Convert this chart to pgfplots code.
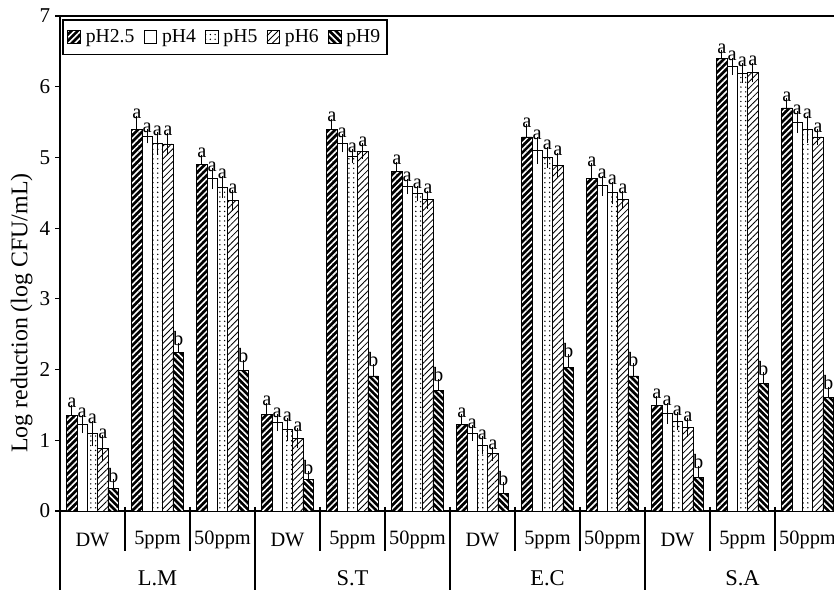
\documentclass[border=0pt]{standalone}
\usepackage{pgfplots}
\pgfplotsset{compat=1.18}
\usepackage{pgfplotstable}
\usepackage{fontspec}
\setmainfont{Liberation Serif}
\usetikzlibrary{patterns,patterns.meta}

% columns: group index, mean log reduction, error, significance letter
\pgfplotstableread{
x y e lab
0 1.35 0.09 a
1 5.40 0.13 a
2 4.90 0.08 a
3 1.37 0.10 a
4 5.40 0.09 a
5 4.80 0.08 a
6 1.23 0.08 a
7 5.29 0.12 a
8 4.70 0.16 a
9 1.49 0.08 a
10 6.40 0.06 a
11 5.70 0.08 a
}\phA
\pgfplotstableread{
x y e lab
0 1.23 0.07 a
1 5.30 0.04 a
2 4.70 0.09 a
3 1.25 0.06 a
4 5.20 0.07 a
5 4.59 0.05 a
6 1.10 0.05 a
7 5.10 0.13 a
8 4.60 0.08 a
9 1.38 0.09 a
10 6.29 0.06 a
11 5.50 0.09 a
}\phB
\pgfplotstableread{
x y e lab
0 1.10 0.12 a
1 5.20 0.10 a
2 4.58 0.10 a
3 1.15 0.10 a
4 5.02 0.04 a
5 4.49 0.05 a
6 0.93 0.07 a
7 5.00 0.09 a
8 4.50 0.10 a
9 1.27 0.07 a
10 6.19 0.08 a
11 5.40 0.13 a
}\phC
\pgfplotstableread{
x y e lab
0 0.89 0.12 a
1 5.19 0.10 a
2 4.39 0.09 a
3 1.03 0.08 a
4 5.09 0.05 a
5 4.40 0.07 a
6 0.81 0.04 a
7 4.89 0.12 a
8 4.40 0.07 a
9 1.18 0.07 a
10 6.20 0.08 a
11 5.29 0.05 a
}\phD
\pgfplotstableread{
x y e lab
0 0.32 0.07 b
1 2.24 0.08 b
2 1.99 0.09 b
3 0.44 0.06 b
4 1.91 0.11 b
5 1.71 0.10 b
6 0.25 0.10 b
7 2.03 0.13 b
8 1.91 0.12 b
9 0.48 0.10 b
10 1.81 0.09 b
11 1.61 0.09 b
}\phE

\pgfplotsset{
  swatch/.style={legend image code/.code={\draw[##1, line width=0.6pt] (0pt,-4.5pt) rectangle (9pt,4.5pt);}},
  letters/.style={ybar, bar shift=#1, draw=none, fill=none, forget plot,
    point meta=explicit symbolic,
    nodes near coords={\fontsize{14.5pt}{15pt}\selectfont\pgfplotspointmeta},
    nodes near coords style={inner sep=0.5pt, anchor=south, black}},
}

\begin{document}
\begin{tikzpicture}
\useasboundingbox (0,0) rectangle (20.85cm,14.725cm);
\clip (0,0) rectangle (20.85cm,14.725cm);
\begin{axis}[
  at={(1.5cm,1.95cm)}, anchor=south west,
  scale only axis, width=19.5cm, height=12.375cm,
  ybar, bar width=0.1585,
  xmin=-0.5, xmax=11.5, ymin=0, ymax=7,
  ytick={0,1,...,7}, ytick pos=left,
  tick align=outside, major tick length=3.5pt,
  xtick={0,1,...,11},
  xticklabels={DW,5ppm,50ppm,DW,5ppm,50ppm,DW,5ppm,50ppm,DW,5ppm,50ppm},
  xtick style={draw=none},
  xticklabel style={anchor=center, yshift=-0.6cm, font=\fontsize{14.5pt}{16pt}\selectfont},
  yticklabel style={font=\fontsize{15pt}{17pt}\selectfont},
  /pgf/number format/assume math mode=true,
  ylabel={Log reduction (log CFU/mL)},
  ylabel style={at={(axis description cs:-0.049,0.40)}, anchor=center, font=\fontsize{17pt}{19pt}\selectfont},
  axis line style={line width=1.2pt},
  tick style={line width=0.9pt, black},
  clip=false,
  legend columns=5,
  legend style={at={(axis description cs:0.003,0.994)}, anchor=north west,
    draw=black, line width=1.2pt, font=\fontsize{14pt}{16pt}\selectfont,
    inner xsep=3pt, inner ysep=5pt,
    /tikz/every odd column/.append style={column sep=1.5pt},
    /tikz/every even column/.append style={column sep=4.5pt}},
  error bars/error bar style={line width=0.6pt, black},
  error bars/error mark options={line width=0.6pt, black, mark size=3pt},
]
% pH 2.5: black with white rising stripes
\addplot[swatch, bar shift=-0.317, draw=black, line width=0.6pt, fill=black,
  postaction={pattern={Lines[angle=45,distance=3.2pt,line width=1.1pt]}, pattern color=white},
  error bars/.cd, y dir=plus, y explicit]
  table[x=x, y=y, y error=e]{\phA};
% pH 4: plain white
\addplot[swatch, bar shift=-0.1585, draw=black, line width=0.6pt, fill=white,
  error bars/.cd, y dir=both, y explicit]
  table[x=x, y=y, y error=e]{\phB};
% pH 5: dotted
\addplot[swatch, bar shift=0, draw=black, line width=0.6pt, fill=white,
  postaction={pattern={Dots[distance=3.4pt,radius=0.55pt]}, pattern color=black},
  error bars/.cd, y dir=both, y explicit]
  table[x=x, y=y, y error=e]{\phC};
% pH 6: white with black rising stripes
\addplot[swatch, bar shift=0.1585, draw=black, line width=0.6pt, fill=white,
  postaction={pattern={Lines[angle=45,distance=3.2pt,line width=0.6pt]}, pattern color=black},
  error bars/.cd, y dir=both, y explicit]
  table[x=x, y=y, y error=e]{\phD};
% pH 9: black with white falling stripes
\addplot[swatch, bar shift=0.317, draw=black, line width=0.6pt, fill=black,
  postaction={pattern={Lines[angle=-45,distance=3.2pt,line width=1.1pt]}, pattern color=white},
  error bars/.cd, y dir=plus, y explicit]
  table[x=x, y=y, y error=e]{\phE};
\legend{pH2.5,pH4,pH5,pH6,pH9}

% significance letters above the error bars
\addplot[letters=-0.317] table[x=x, y expr=\thisrow{y}+\thisrow{e}, meta=lab]{\phA};
\addplot[letters=-0.1585] table[x=x, y expr=\thisrow{y}+\thisrow{e}, meta=lab]{\phB};
\addplot[letters=0] table[x=x, y expr=\thisrow{y}+\thisrow{e}, meta=lab]{\phC};
\addplot[letters=0.1585] table[x=x, y expr=\thisrow{y}+\thisrow{e}, meta=lab]{\phD};
\addplot[letters=0.317] table[x=x, y expr=\thisrow{y}+\thisrow{e}, meta=lab]{\phE};

% category separators below the axis
\draw[line width=0.9pt] (axis cs:0.5,0) ++(0pt,3pt) -- ++(0pt,-1.1cm);
\draw[line width=0.9pt] (axis cs:1.5,0) ++(0pt,3pt) -- ++(0pt,-1.1cm);
\draw[line width=0.9pt] (axis cs:3.5,0) ++(0pt,3pt) -- ++(0pt,-1.1cm);
\draw[line width=0.9pt] (axis cs:4.5,0) ++(0pt,3pt) -- ++(0pt,-1.1cm);
\draw[line width=0.9pt] (axis cs:6.5,0) ++(0pt,3pt) -- ++(0pt,-1.1cm);
\draw[line width=0.9pt] (axis cs:7.5,0) ++(0pt,3pt) -- ++(0pt,-1.1cm);
\draw[line width=0.9pt] (axis cs:9.5,0) ++(0pt,3pt) -- ++(0pt,-1.1cm);
\draw[line width=0.9pt] (axis cs:10.5,0) ++(0pt,3pt) -- ++(0pt,-1.1cm);
\draw[line width=0.9pt] (axis cs:2.5,0) ++(0pt,3pt) -- ++(0pt,-2.5cm);
\draw[line width=0.9pt] (axis cs:5.5,0) ++(0pt,3pt) -- ++(0pt,-2.5cm);
\draw[line width=0.9pt] (axis cs:8.5,0) ++(0pt,3pt) -- ++(0pt,-2.5cm);
\draw[line width=1.2pt] (axis cs:-0.5,0) -- ++(0pt,-2.5cm);

% organism labels
\node[font=\fontsize{16pt}{18pt}\selectfont, yshift=-1.68cm] at (axis cs:1,0) {L.M};
\node[font=\fontsize{16pt}{18pt}\selectfont, yshift=-1.68cm] at (axis cs:4,0) {S.T};
\node[font=\fontsize{16pt}{18pt}\selectfont, yshift=-1.68cm] at (axis cs:7,0) {E.C};
\node[font=\fontsize{16pt}{18pt}\selectfont, yshift=-1.68cm] at (axis cs:10,0) {S.A};
\end{axis}
\end{tikzpicture}
\end{document}
